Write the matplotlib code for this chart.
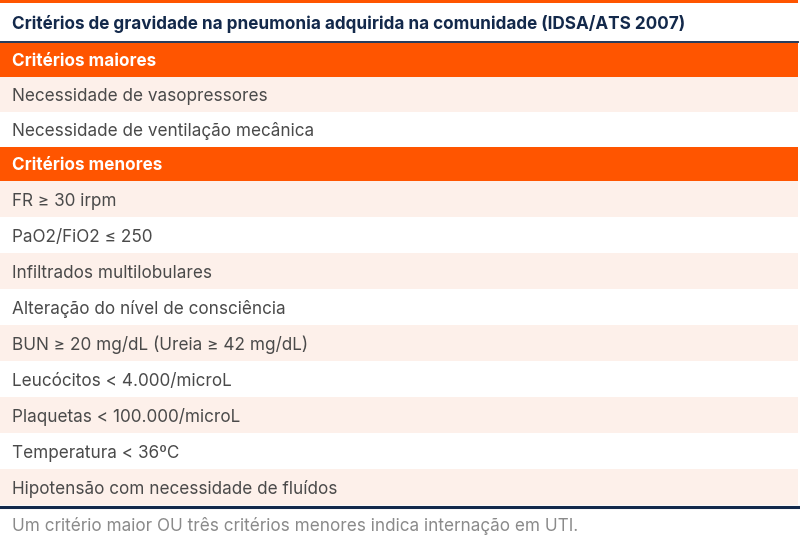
import matplotlib.pyplot as plt
from matplotlib.patches import Rectangle

plt.rcParams['font.family'] = ['Inter', 'DejaVu Sans']

title = "Critérios de gravidade na pneumonia adquirida na comunidade (IDSA/ATS 2007)"
rows = [
    "Critérios maiores",
    "Necessidade de vasopressores",
    "Necessidade de ventilação mecânica",
    "Critérios menores",
    "FR ≥ 30 irpm",
    "PaO2/FiO2 ≤ 250",
    "Infiltrados multilobulares",
    "Alteração do nível de consciência",
    "BUN ≥ 20 mg/dL (Ureia ≥ 42 mg/dL)",
    "Leucócitos < 4.000/microL",
    "Plaquetas < 100.000/microL",
    "Temperatura < 36ºC",
    "Hipotensão com necessidade de fluídos",
]
is_header = [True, False, False, True] + [False] * 9
footnote = "Um critério maior OU três critérios menores indica internação em UTI."

orange = '#FF5500'
light = '#FDF0EA'
navy = '#13294B'
grey_txt = '#4a4a4a'
fs = 12.35
dy = 2  # text sits a little below the row centre

fig = plt.figure(figsize=(8, 5.49), dpi=100)
ax = fig.add_axes([0, 0, 1, 1])
ax.set_xlim(0, 800)
ax.set_ylim(549, 0)
ax.axis('off')

# top strip and title
ax.add_patch(Rectangle((0, 0), 798, 3, color=orange, lw=0))
ax.text(12, 22 + dy, title, fontsize=fs, fontweight='bold', color=navy, va='center')
ax.plot([0, 798], [41.8, 41.8], color=navy, lw=1.3)

y = 43
stripe = 0
section = 0
for label, head in zip(rows, is_header):
    if head:
        h = 34
        section += 1
        ax.add_patch(Rectangle((0, y), 798, h, color=orange, lw=0))
        ax.text(12, y + h / 2 + dy, label, fontsize=fs, fontweight='bold', color='white', va='center')
        stripe = 0
    else:
        h = 35 if section == 1 else 36
        if stripe % 2 == 0:
            ax.add_patch(Rectangle((0, y), 798, h, color=light, lw=0))
        ax.text(12, y + h / 2 + dy, label, fontsize=fs, color=grey_txt, va='center')
        stripe += 1
    y += h

ax.plot([0, 798], [y + 1.5, y + 1.5], color=navy, lw=2.2)
ax.text(12, 524 + dy, footnote, fontsize=fs, color='#8a8a8a', va='center')

fig.savefig('out.png', dpi=100)
